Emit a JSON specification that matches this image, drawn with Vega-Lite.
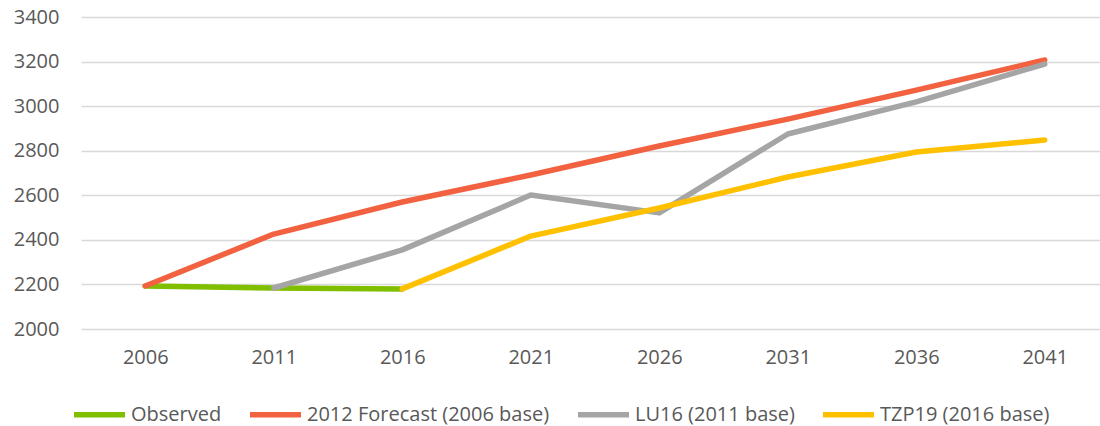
{
  "$schema": "https://vega.github.io/schema/vega-lite/v6.json",
  "width": 1028,
  "height": 312,
  "autosize": {"type": "none"},
  "padding": {"left": 81, "top": 17, "right": 0, "bottom": 97},
  "background": "white",
  "config": {
    "view": {"stroke": null},
    "font": "Open Sans"
  },
  "data": {
    "values": [
      {"year": "2006", "series": "Observed", "value": 2193},
      {"year": "2011", "series": "Observed", "value": 2184},
      {"year": "2016", "series": "Observed", "value": 2180},
      {"year": "2006", "series": "2012 Forecast (2006 base)", "value": 2193},
      {"year": "2011", "series": "2012 Forecast (2006 base)", "value": 2426},
      {"year": "2016", "series": "2012 Forecast (2006 base)", "value": 2570},
      {"year": "2021", "series": "2012 Forecast (2006 base)", "value": 2691},
      {"year": "2026", "series": "2012 Forecast (2006 base)", "value": 2821},
      {"year": "2031", "series": "2012 Forecast (2006 base)", "value": 2942},
      {"year": "2036", "series": "2012 Forecast (2006 base)", "value": 3072},
      {"year": "2041", "series": "2012 Forecast (2006 base)", "value": 3207},
      {"year": "2011", "series": "LU16 (2011 base)", "value": 2184},
      {"year": "2016", "series": "LU16 (2011 base)", "value": 2355},
      {"year": "2021", "series": "LU16 (2011 base)", "value": 2601},
      {"year": "2026", "series": "LU16 (2011 base)", "value": 2521},
      {"year": "2031", "series": "LU16 (2011 base)", "value": 2875},
      {"year": "2036", "series": "LU16 (2011 base)", "value": 3019},
      {"year": "2041", "series": "LU16 (2011 base)", "value": 3189},
      {"year": "2016", "series": "TZP19 (2016 base)", "value": 2180},
      {"year": "2021", "series": "TZP19 (2016 base)", "value": 2417},
      {"year": "2026", "series": "TZP19 (2016 base)", "value": 2543},
      {"year": "2031", "series": "TZP19 (2016 base)", "value": 2682},
      {"year": "2036", "series": "TZP19 (2016 base)", "value": 2794},
      {"year": "2041", "series": "TZP19 (2016 base)", "value": 2848}
    ]
  },
  "mark": {"type": "line", "strokeWidth": 5.5, "strokeCap": "round", "strokeJoin": "round"},
  "encoding": {
    "x": {
      "field": "year", "type": "ordinal", "title": null,
      "scale": {"type": "point", "padding": 0.5},
      "axis": {"grid": false, "domain": false, "ticks": false, "labelAngle": 0, "labelPadding": 18, "labelFontSize": 20, "labelColor": "#595959", "labelFont": "Open Sans"}
    },
    "y": {
      "field": "value", "type": "quantitative", "title": null,
      "scale": {"domain": [2000, 3400], "nice": false, "zero": false},
      "axis": {"values": [2000, 2200, 2400, 2600, 2800, 3000, 3200, 3400], "format": "d", "grid": true, "gridColor": "#d9d9d9", "gridWidth": 1.5, "domain": false, "ticks": false, "labelPadding": 22, "labelFontSize": 20, "labelColor": "#595959", "labelFont": "Open Sans"}
    },
    "color": {
      "field": "series", "type": "nominal", "title": null,
      "scale": {
        "domain": ["Observed", "2012 Forecast (2006 base)", "LU16 (2011 base)", "TZP19 (2016 base)"],
        "range": ["#7fbf00", "#f26140", "#a5a5a5", "#ffc000"]
      },
      "legend": {
        "orient": "none", "direction": "horizontal", "legendX": -10, "legendY": 369,
        "symbolType": "stroke", "symbolSize": 2601, "symbolStrokeWidth": 5.5,
        "labelFontSize": 20, "labelColor": "#595959", "labelFont": "Open Sans", "labelLimit": 500,
        "columnPadding": 17, "labelOffset": 3
      }
    },
    "order": {"field": "year"}
  }
}
